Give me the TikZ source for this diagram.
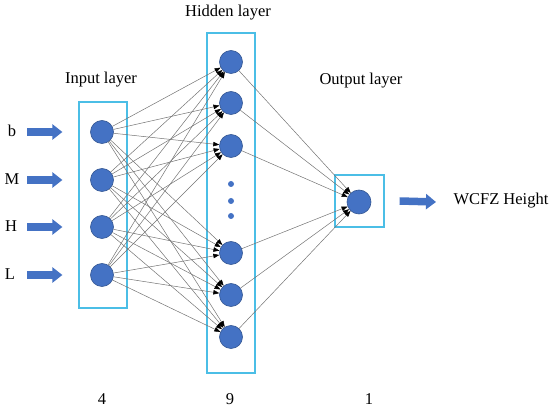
\documentclass[tikz,border=0pt]{standalone}
\usepackage{fontspec}
\setmainfont{Liberation Serif}
\usetikzlibrary{arrows.meta}
\definecolor{nodeblue}{RGB}{68,114,196}
\definecolor{boxcyan}{RGB}{75,190,230}

\begin{document}
\begin{tikzpicture}[x=1pt,y=-1pt,
  font=\fontsize{16.5}{20}\selectfont,
  neuron/.style={draw=nodeblue!75!black, fill=nodeblue, circle, inner sep=0pt, minimum size=23pt, line width=0.6pt},
  dotnode/.style={fill=nodeblue, circle, inner sep=0pt, minimum size=6pt},
  layerbox/.style={draw=boxcyan, rectangle, line width=1.2pt, inner sep=0pt},
  link/.style={draw=black!55, line width=0.5pt, -{Triangle[length=6pt,width=4.5pt,black]}},
  fatarrow/.style={draw=nodeblue, line width=7.5pt, -{Triangle[length=10pt,width=15pt]}}]
\useasboundingbox (0,0) rectangle (550,414);

% layer boxes
\node[layerbox, minimum width=48pt, minimum height=206pt] (inbox) at (103,205) {};
\node[layerbox, minimum width=48pt, minimum height=340pt] (hidbox) at (231,203) {};
\node[layerbox, minimum width=49pt, minimum height=52pt] (outbox) at (359.5,201) {};

% neurons
\node[neuron] (in1) at (102,132) {};
\node[neuron] (in2) at (102,180) {};
\node[neuron] (in3) at (102,227) {};
\node[neuron] (in4) at (102,275) {};
\node[neuron] (hid1) at (231,62) {};
\node[neuron] (hid2) at (231,103) {};
\node[neuron] (hid3) at (231,146) {};
\node[neuron] (hid4) at (231,253) {};
\node[neuron] (hid5) at (231,295) {};
\node[neuron] (hid6) at (231,337) {};
\node[dotnode] (dot1) at (231,184) {};
\node[dotnode] (dot2) at (231,201) {};
\node[dotnode] (dot3) at (231,216) {};
\node[neuron, minimum size=24pt] (out) at (359,202) {};

% connections
\foreach \i in {1,...,4}
  \foreach \j in {1,...,6}
    \draw[link] (in\i) -- (hid\j);
\foreach \j in {1,...,6}
  \draw[link] (hid\j) -- (out);

% inputs
\node[anchor=base] (lb) at (12,137) {b};
\node[anchor=base] (lm) at (12,185) {M};
\node[anchor=base] (lh) at (11,232) {H};
\node[anchor=base] (ll) at (10,280) {L};
\foreach \l/\n in {lb/in1,lm/in2,lh/in3,ll/in4}
  \draw[fatarrow] (27,0 |- \n) -- ([xshift=-16pt]inbox.west |- \n);

% output
\node[anchor=base west] (res) at (450,205) {WCFZ Height};
\draw[fatarrow] ([xshift=15pt]outbox.east) -- ([xshift=-14pt]res.west |- out);

% titles
\node[anchor=base] (tin) at (101,84) {Input layer};
\node[anchor=base] (thid) at (228,17) {Hidden layer};
\node[anchor=base] (tout) at (361,85) {Output layer};
\node[anchor=base] (nin) at (102,405) {4};
\node[anchor=base] (nhid) at (230,405) {9};
\node[anchor=base] (nout) at (369,405) {1};
\end{tikzpicture}
\end{document}
